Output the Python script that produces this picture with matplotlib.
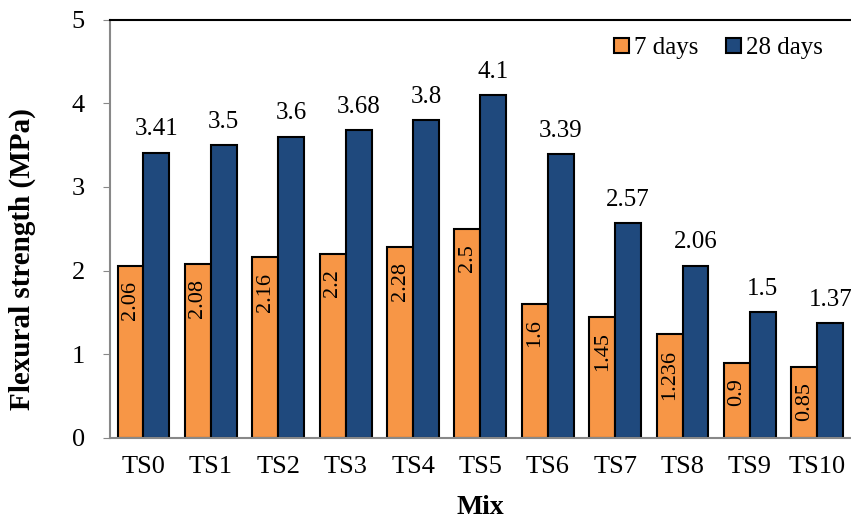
import numpy as np
import matplotlib.pyplot as plt

plt.rcParams['font.family'] = ['Liberation Serif', 'DejaVu Serif']

mixes = ['TS0', 'TS1', 'TS2', 'TS3', 'TS4', 'TS5', 'TS6', 'TS7', 'TS8', 'TS9', 'TS10']
days7 = [2.06, 2.08, 2.16, 2.2, 2.28, 2.5, 1.6, 1.45, 1.236, 0.9, 0.85]
days28 = [3.41, 3.5, 3.6, 3.68, 3.8, 4.1, 3.39, 2.57, 2.06, 1.5, 1.37]

fig = plt.figure(figsize=(8.51, 5.2), dpi=100)
ax = fig.add_axes([0.129, 0.158, 0.871, 0.804])

x = np.arange(len(mixes))
w = 0.385
ax.bar(x - w / 2, days7, w, color='#F79646', edgecolor='black', linewidth=1.5, label='7 days')
ax.bar(x + w / 2, days28, w, color='#1F497D', edgecolor='black', linewidth=1.5, label='28 days')

# 7-day values sit inside the bars, rotated
for xi, v in zip(x, days7):
    ax.annotate(str(v), (xi - w / 2, v), xytext=(0, -11), textcoords='offset points',
                rotation=90, ha='center', va='top', fontsize=16)
for xi, v in zip(x, days28):
    ax.annotate(str(v), (xi + w / 2, v), xytext=(0, 12.5), textcoords='offset points',
                ha='center', va='baseline', fontsize=18)

ax.set_xlim(-0.5, len(mixes) - 0.5)
ax.set_ylim(0, 5)
ax.set_yticks(range(6))
ax.set_xticks(x)
ax.set_xticklabels(mixes)
ax.tick_params(axis='x', length=0, labelsize=19, pad=13)
ax.tick_params(axis='y', length=5, color='#888888', labelsize=19, pad=13)

for s in ['left', 'bottom']:
    ax.spines[s].set_color('#888888')
    ax.spines[s].set_linewidth(1.5)
ax.spines['top'].set_linewidth(1.5)
ax.spines['right'].set_visible(False)

ax.set_xlabel('Mix', fontsize=20, fontweight='bold', labelpad=12)
ax.set_ylabel('Flexural strength (MPa)', fontsize=21, fontweight='bold')
ax.yaxis.set_label_coords(-0.099, 0.428)

ax.legend(loc='upper right', bbox_to_anchor=(0.985, 1.0), frameon=False, fontsize=18, ncol=2,
          handlelength=0.6, handleheight=0.6, handletextpad=0.2, columnspacing=1.1,
          borderaxespad=0.3)

fig.savefig('out.png', dpi=100)
